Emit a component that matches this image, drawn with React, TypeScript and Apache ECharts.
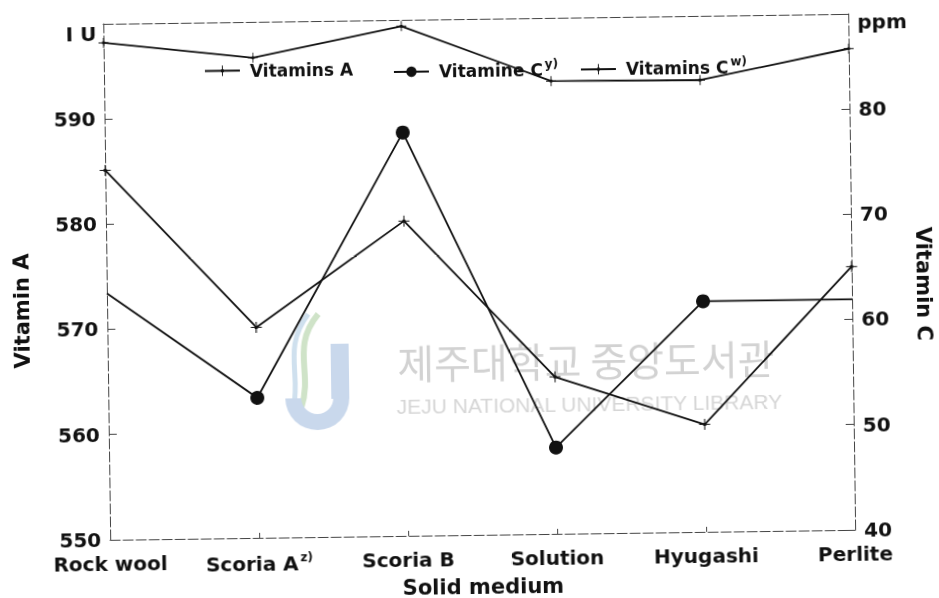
import React, { useEffect, useRef } from "react";
import * as echarts from "echarts";

// ---- data ----
const categories = ["Rock wool", "Scoria A", "Scoria B", "Solution", "Hyugashi", "Perlite"];
const categorySup = ["", "z)", "", "", "", ""];
const vitaminA = [585.1, 570.0, 579.9, 564.9, 560.2, 575.0]; // IU, left axis
const vitaminCy = [63.4, 53.3, 78.3, 48.2, 61.9, 61.9]; // ppm, right axis
const vitaminCw = [87.2, 85.6, 88.4, 83.0, 82.9, 85.7]; // ppm, right axis
const cyMarkerShown = [false, true, true, true, true, false];
const seriesNames = ["Vitamins A", "Vitamine C", "Vitamins C"];
const seriesSup = ["", "y)", "w)"];
const leftAxisRange = [550, 599];
const rightAxisRange = [40, 89];
const tickStep = 10;

const FONT = "DejaVu Sans";
const INK = "#111";
const AXIS = "#444";

const crossSymbol = "path://M0,5h11v1H0z M5,0h1v11H5z M4,4h3v3H4z";

const supStyle = {
  fontFamily: FONT,
  fontWeight: "bold" as const,
  fontSize: 12,
  color: INK,
  padding: [0, 0, 12, 2],
};

export default function App() {
  const ref = useRef<HTMLDivElement>(null);

  useEffect(() => {
    if (!ref.current) return;
    const chart = echarts.init(ref.current, undefined, { renderer: "svg" });
    const axisLineStyle = { color: AXIS, width: 1, type: [10, 3] as any };
    const yLabel = {
      fontFamily: FONT,
      fontWeight: "bold" as const,
      fontSize: 20,
      color: INK,
      margin: 9,
      formatter: (v: number) => (v % tickStep === 0 ? String(v) : ""),
    };
    const legendLefts = [202, 391, 578];

    const option: any = {
      animation: false,
      backgroundColor: "#fff",
      grid: { left: 107, right: 87, top: 19, bottom: 63, containLabel: false, outerBoundsMode: "none" },
      xAxis: [
        {
          type: "category",
          data: categories,
          boundaryGap: false,
          position: "bottom",
          axisLine: { onZero: false, lineStyle: axisLineStyle },
          axisTick: { inside: true, length: 5, lineStyle: { color: AXIS } },
          axisLabel: {
            interval: 0,
            margin: 14,
            fontFamily: FONT,
            fontWeight: "bold",
            fontSize: 20,
            color: INK,
            formatter: (v: string, i: number) =>
              categorySup[i] ? `${v}{sup|${categorySup[i]}}` : v,
            rich: { sup: supStyle },
          },
          name: "Solid medium",
          nameLocation: "middle",
          nameGap: 41,
          nameTextStyle: { fontFamily: FONT, fontWeight: "bold", fontSize: 21, color: INK },
        },
        {
          type: "category",
          data: categories,
          boundaryGap: false,
          position: "top",
          axisLine: { show: true, onZero: false, lineStyle: axisLineStyle },
          axisTick: { show: false },
          axisLabel: { show: false },
        },
      ],
      yAxis: [
        {
          type: "value",
          min: leftAxisRange[0],
          max: leftAxisRange[1],
          interval: tickStep,
          position: "left",
          axisLine: { show: true, lineStyle: axisLineStyle },
          axisTick: { show: true, inside: true, length: 8, lineStyle: { color: AXIS } },
          axisLabel: yLabel,
          splitLine: { show: false },
        },
        {
          type: "value",
          min: rightAxisRange[0],
          max: rightAxisRange[1],
          interval: tickStep,
          position: "right",
          axisLine: { show: true, lineStyle: axisLineStyle },
          axisTick: { show: true, inside: true, length: 8, lineStyle: { color: AXIS } },
          axisLabel: yLabel,
          splitLine: { show: false },
        },
      ],
      legend: seriesNames.map((n, i) => ({
        data: [n],
        left: legendLefts[i],
        top: 54,
        itemWidth: 35,
        itemHeight: 13,
        selectedMode: false,
        formatter: (name: string) => (seriesSup[i] ? `${name}{sup|${seriesSup[i]}}` : name),
        textStyle: {
          fontFamily: FONT,
          fontWeight: "bold",
          fontSize: 17,
          color: INK,
          padding: [0, 0, 0, 5],
          rich: { sup: supStyle },
        },
      })),
      series: [
        {
          name: seriesNames[0],
          type: "line",
          xAxisIndex: 0,
          yAxisIndex: 0,
          data: vitaminA,
          symbol: crossSymbol,
          symbolSize: 11,
          itemStyle: { color: INK },
          lineStyle: { color: INK, width: 1.8 },
          z: 3,
        },
        {
          name: seriesNames[1],
          type: "line",
          xAxisIndex: 0,
          yAxisIndex: 1,
          data: vitaminCy.map((v, i) => (cyMarkerShown[i] ? v : { value: v, symbol: "none" })),
          symbol: "circle",
          symbolSize: 14,
          itemStyle: { color: INK },
          lineStyle: { color: INK, width: 1.8 },
          z: 3,
        },
        {
          name: seriesNames[2],
          type: "line",
          xAxisIndex: 0,
          yAxisIndex: 1,
          data: vitaminCw,
          symbol: crossSymbol,
          symbolSize: 10,
          itemStyle: { color: INK },
          lineStyle: { color: INK, width: 1.8 },
          z: 3,
        },
      ],
      graphic: {
        elements: [
          // watermark logo (approximate)
          {
            type: "bezierCurve",
            z: 0,
            shape: { x1: 318, y1: 312, cpx1: 290, cpy1: 345, cpx2: 312, cpy2: 370, x2: 300, y2: 405 },
            style: { stroke: "#cfe3c8", lineWidth: 6, fill: "none" },
          },
          {
            type: "bezierCurve",
            z: 0,
            shape: { x1: 308, y1: 312, cpx1: 282, cpy1: 345, cpx2: 300, cpy2: 372, x2: 292, y2: 405 },
            style: { stroke: "#cfe0ee", lineWidth: 5, fill: "none" },
          },
          {
            type: "rect",
            z: 0,
            shape: { x: 330, y: 342, width: 18, height: 55 },
            style: { fill: "#c9d8ec" },
          },
          {
            type: "sector",
            z: 0,
            shape: { cx: 316, cy: 396, r: 32, r0: 16, startAngle: 0, endAngle: Math.PI },
            style: { fill: "#c9d8ec" },
          },
          {
            type: "text",
            z: 0,
            x: 585,
            y: 361,
            style: {
              text: "제주대학교 중앙도서관",
              fontFamily: "Noto Sans CJK KR",
              fontSize: 40,
              fill: "#d2d2d2",
              align: "center",
              verticalAlign: "middle",
            },
          },
          {
            type: "text",
            z: 0,
            x: 588,
            y: 405,
            style: {
              text: "JEJU NATIONAL UNIVERSITY LIBRARY",
              fontFamily: "Liberation Sans",
              fontSize: 21,
              fill: "#d6d6d6",
              align: "center",
              verticalAlign: "middle",
            },
          },
          // axis units and titles
          {
            type: "text",
            x: 100,
            y: 29,
            style: {
              text: "I U",
              fontFamily: FONT,
              fontWeight: "bold",
              fontSize: 20,
              fill: INK,
              align: "right",
              verticalAlign: "middle",
            },
          },
          {
            type: "text",
            x: 861,
            y: 27,
            style: {
              text: "ppm",
              fontFamily: FONT,
              fontWeight: "bold",
              fontSize: 20,
              fill: INK,
              align: "left",
              verticalAlign: "middle",
            },
          },
          {
            type: "text",
            x: 22,
            y: 305,
            rotation: Math.PI / 2,
            style: {
              text: "Vitamin A",
              fontFamily: FONT,
              fontWeight: "bold",
              fontSize: 21,
              fill: INK,
              align: "center",
              verticalAlign: "middle",
            },
          },
          {
            type: "text",
            x: 924,
            y: 290,
            rotation: -Math.PI / 2,
            style: {
              text: "Vitamin C",
              fontFamily: FONT,
              fontWeight: "bold",
              fontSize: 21,
              fill: INK,
              align: "center",
              verticalAlign: "middle",
            },
          },
        ],
      },
    };
    chart.setOption(option);
    return () => chart.dispose();
  }, []);

  return (
    <div
      style={{
        position: "fixed",
        left: 0,
        top: 0,
        width: 939,
        height: 598,
        background: "#fff",
        transform: "rotate(-0.77deg)",
      }}
    >
      <div ref={ref} style={{ width: 939, height: 598 }} />
    </div>
  );
}
